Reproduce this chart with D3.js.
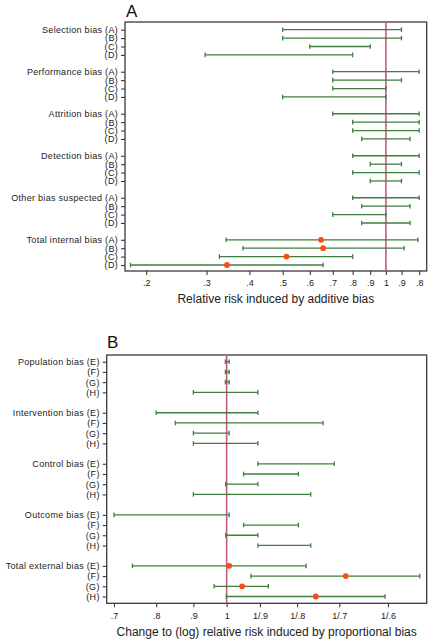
<!DOCTYPE html>
<html>
<head>
<meta charset="utf-8">
<script src="https://cdn.jsdelivr.net/npm/d3@7"></script>
<style>
  html, body { margin: 0; padding: 0; background: #fff; }
  svg { display: block; font-family: "Liberation Sans", Arial, sans-serif; }
</style>
</head>
<body>
<svg id="chart" width="430" height="641"></svg>
<script>
// ---------- Panel A data ----------
const groupsA = ["Selection bias", "Performance bias", "Attrition bias", "Detection bias", "Other bias suspected", "Total internal bias"];
const subsA = ["(A)", "(B)", "(C)", "(D)"];
const lowA = [
  0.50, 0.50, 0.60, 0.297,
  0.70, 0.70, 0.70, 0.50,
  0.70, 0.80, 0.80, 0.85,
  0.80, 0.90, 0.80, 0.90,
  0.80, 0.85, 0.70, 0.85,
  0.342, 0.383, 0.327, 0.18
];
const highA = [
  1.11, 1.11, 0.90, 0.80,
  1.25, 1.11, 1.00, 1.00,
  1.25, 1.25, 1.25, 1.176,
  1.25, 1.11, 1.25, 1.11,
  1.25, 1.176, 1.00, 1.176,
  1.24, 1.13, 0.80, 0.656
];
const pointA = [
  null, null, null, null,
  null, null, null, null,
  null, null, null, null,
  null, null, null, null,
  null, null, null, null,
  0.647, 0.656, 0.513, 0.344
];
const tickValsA = [0.2, 0.3, 0.4, 0.5, 0.6, 0.7, 0.8, 0.9, 1, 1 / 0.9, 1 / 0.8];
const tickLabelsA = [".2", ".3", ".4", ".5", ".6", ".7", ".8", ".9", "1", ".9", ".8"];
const xTitleA = "Relative risk induced by additive bias";

// ---------- Panel B data ----------
const groupsB = ["Population bias", "Intervention bias", "Control bias", "Outcome bias", "Total external bias"];
const subsB = ["(E)", "(F)", "(G)", "(H)"];
const lowB = [
  0.996, 0.996, 0.996, 0.90,
  0.80, 0.85, 0.90, 0.90,
  1.104, 1.055, 0.997, 0.90,
  0.70, 1.055, 0.997, 1.104,
  0.742, 1.08, 0.961, 0.999
];
const highB = [
  1.008, 1.008, 1.008, 1.104,
  1.104, 1.357, 1.008, 1.104,
  1.406, 1.255, 1.104, 1.305,
  1.008, 1.255, 1.104, 1.305,
  1.286, 1.843, 1.141, 1.651
];
const pointB = [
  null, null, null, null,
  null, null, null, null,
  null, null, null, null,
  null, null, null, null,
  1.008, 1.458, 1.05, 1.326
];
const tickValsB = [0.7, 0.8, 0.9, 1, 1 / 0.9, 1 / 0.8, 1 / 0.7, 1 / 0.6];
const tickLabelsB = [".7", ".8", ".9", "1", "1/.9", "1/.8", "1/.7", "1/.6"];
const xTitleB = "Change to (log) relative risk induced by proportional bias";

// ---------- styling ----------
const GREEN = "#3f7f3f";
const DOT = "#ff4a12";
const REF = "#c25a7c";
const FRAME = "#3a3a3a";

const svg = d3.select("#chart");

function drawPanel(cfg) {
  const { groups, subs, low, high, point, tickVals, tickLabels, xTitle, title,
          left, right, top, bottom, xDomain, yFirst, yLast, titleX, titleY, xTitleY } = cfg;
  const nSub = subs.length;
  const rows = [];
  groups.forEach((g, gi) => {
    subs.forEach((s, si) => {
      const idx = gi * nSub + si;
      rows.push({
        slot: gi * (nSub + 1) + si,
        label: si === 0 ? g + " " + s : s,
        lo: low[idx], hi: high[idx], pt: point[idx]
      });
    });
  });
  const lastSlot = rows[rows.length - 1].slot;

  const x = d3.scaleLog().domain(xDomain).range([left, right]);
  const y = d3.scaleLinear().domain([0, lastSlot]).range([yFirst, yLast]);

  const g = svg.append("g");

  // frame
  g.append("rect")
    .attr("x", left).attr("y", top)
    .attr("width", right - left).attr("height", bottom - top)
    .attr("fill", "none").attr("stroke", FRAME).attr("stroke-width", 1.3);

  // reference line at 1
  g.append("line")
    .attr("x1", x(1)).attr("x2", x(1))
    .attr("y1", top).attr("y2", bottom)
    .attr("stroke", REF).attr("stroke-width", 1.6);

  // y axis
  const yAxis = d3.axisLeft(y)
    .tickValues(rows.map(r => r.slot))
    .tickFormat((d, i) => rows[i].label)
    .tickSize(4).tickPadding(3);
  const ya = g.append("g").attr("transform", `translate(${left},0)`).call(yAxis);
  ya.select(".domain").remove();
  ya.selectAll(".tick line").attr("stroke", FRAME).attr("stroke-width", 1.1);
  ya.selectAll(".tick text").attr("font-size", 9).attr("fill", "#1a1a1a")
    .attr("font-family", "'Liberation Sans', Arial, sans-serif")
    .style("letter-spacing", "0.3px");

  // x axis
  const xAxis = d3.axisBottom(x)
    .tickValues(tickVals)
    .tickFormat((d, i) => tickLabels[i])
    .tickSize(4).tickPadding(5);
  const xa = g.append("g").attr("transform", `translate(0,${bottom})`).call(xAxis);
  xa.select(".domain").remove();
  xa.selectAll(".tick line").attr("stroke", FRAME).attr("stroke-width", 1.1);
  xa.selectAll(".tick text").attr("font-size", 9).attr("fill", "#1a1a1a")
    .attr("font-family", "'Liberation Sans', Arial, sans-serif");

  // error bars
  const bars = g.append("g");
  rows.forEach(r => {
    const yy = y(r.slot);
    bars.append("line")
      .attr("x1", x(r.lo)).attr("x2", x(r.hi)).attr("y1", yy).attr("y2", yy)
      .attr("stroke", GREEN).attr("stroke-width", 1.3);
    [r.lo, r.hi].forEach(v => {
      bars.append("line")
        .attr("x1", x(v)).attr("x2", x(v)).attr("y1", yy - 2.3).attr("y2", yy + 2.3)
        .attr("stroke", GREEN).attr("stroke-width", 1.3);
    });
  });
  g.append("g").selectAll("circle")
    .data(rows.filter(r => r.pt != null))
    .join("circle")
    .attr("cx", r => x(r.pt)).attr("cy", r => y(r.slot))
    .attr("r", 2.9).attr("fill", DOT);

  // panel title
  g.append("text").attr("x", titleX).attr("y", titleY)
    .attr("font-size", 17).attr("fill", "#111").text(title);

  // x title
  g.append("text").attr("x", (left + right) / 2).attr("y", xTitleY)
    .attr("text-anchor", "middle").attr("font-size", 12).attr("fill", "#222")
    .text(xTitle);
}

drawPanel({
  groups: groupsA, subs: subsA, low: lowA, high: highA, point: pointA,
  tickVals: tickValsA, tickLabels: tickLabelsA, xTitle: xTitleA, title: "A",
  left: 125, right: 426.7, top: 22, bottom: 271,
  xDomain: [0.1735, 1.315], yFirst: 29.7, yLast: 265,
  titleX: 126, titleY: 17, xTitleY: 303
});

drawPanel({
  groups: groupsB, subs: subsB, low: lowB, high: highB, point: pointB,
  tickVals: tickValsB, tickLabels: tickLabelsB, xTitle: xTitleB, title: "B",
  left: 106.7, right: 426.7, top: 355, bottom: 603.3,
  xDomain: [0.684, 1.884], yFirst: 361.7, yLast: 596.5,
  titleX: 107, titleY: 347.5, xTitleY: 636
});
</script>
</body>
</html>
